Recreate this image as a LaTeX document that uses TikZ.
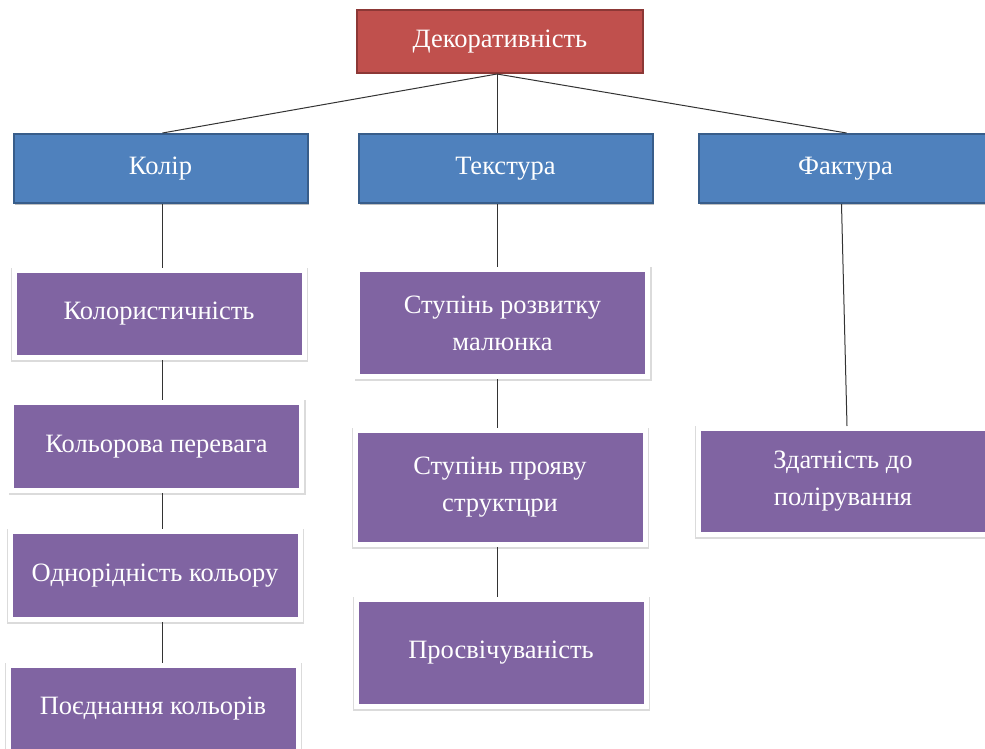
\documentclass[tikz,border=0pt]{standalone}
\usepackage{fontspec}
\setmainfont{Liberation Serif}
\usetikzlibrary{shadows}
\definecolor{redfill}{HTML}{C0504D}
\definecolor{redline}{HTML}{8C3836}
\definecolor{bluefill}{HTML}{4F81BD}
\definecolor{blueline}{HTML}{385D8A}
\definecolor{purplefill}{HTML}{8064A2}
\begin{document}
\begin{tikzpicture}[x=1pt,y=-1pt,
  boxtext/.style={text=white, font=\fontsize{26.5}{37}\selectfont, align=center, inner sep=0pt},
  topbox/.style={boxtext, rectangle, fill=redfill, draw=redline, line width=2pt,
     minimum width=286pt, minimum height=63pt,
     general shadow={fill=black!25, shadow xshift=1pt, shadow yshift=-1.5pt}},
  midbox/.style={boxtext, rectangle, fill=bluefill, draw=blueline, line width=2pt,
     minimum width=294pt, minimum height=69pt,
     general shadow={fill=black!25, shadow xshift=1pt, shadow yshift=-1.5pt}},
  leafbox/.style={boxtext, rectangle, fill=purplefill, draw=white, line width=5pt,
     minimum width=290pt,
     general shadow={fill=black!14, draw=black!14, line width=7pt, shadow xshift=0.6pt, shadow yshift=-1.2pt}},
  link/.style={draw=black!80, line width=1pt}]
\clip (0,0) rectangle (985,749);
\fill[white] (0,0) rectangle (985,749);

\node[topbox] (dek) at (500,41.5) {Декоративність};

\node[midbox] (kol) at (160.5,168.5) {Колір};
\node[midbox] (tex) at (505.5,168.5) {Текстура};
\node[midbox] (fak) at (845.5,168.5) {Фактура};

\node[leafbox, minimum height=87pt] (k1) at (159,314) {Колористичність};
\node[leafbox, minimum height=88pt] (k2) at (156.5,446.5) {Кольорова перевага};
\node[leafbox, minimum height=88pt] (k3) at (155,575.5) {Однорідність кольору};
\node[leafbox, minimum height=88pt] (k4) at (153,709) {Поєднання кольорів};

\node[leafbox, minimum height=107pt] (t1) at (502.5,323) {Ступінь розвитку\\малюнка};
\node[leafbox, minimum height=114pt] (t2) at (500,487.5) {Ступінь прояву\\структцри};
\node[leafbox, minimum height=107pt] (t3) at (501,653) {Просвічуваність};

\node[leafbox, minimum height=106pt] (z1) at (843,481.5) {Здатність до\\полірування};

\coordinate (hub) at ([xshift=-3pt]dek.south);
\coordinate (texin) at (hub |- tex.north);
\draw[link] (hub) -- ([xshift=2pt]kol.north);
\draw[link] (hub) -- (texin);
\draw[link] (hub) -- ([xshift=1pt]fak.north);

\coordinate (kolout) at ([xshift=2pt]kol.south);
\draw[link] (kolout) -- (kolout |- k1.north);
\draw[link] (kolout |- k1.south) -- (kolout |- k2.north);
\draw[link] (kolout |- k2.south) -- (kolout |- k3.north);
\draw[link] (kolout |- k3.south) -- (kolout |- k4.north);

\coordinate (texout) at (hub |- tex.south);
\draw[link] (texout) -- (texout |- t1.north);
\draw[link] (texout |- t1.south) -- (texout |- t2.north);
\draw[link] (texout |- t2.south) -- (texout |- t3.north);

\draw[link] ([xshift=-4pt]fak.south) -- ([xshift=4pt]z1.north);
\end{tikzpicture}
\end{document}
